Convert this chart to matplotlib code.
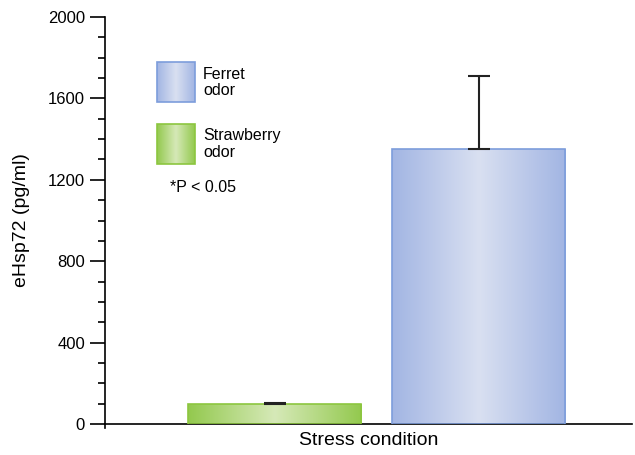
import numpy as np
import matplotlib
matplotlib.use("Agg")
import matplotlib.pyplot as plt
from matplotlib.patches import Rectangle
from matplotlib.colors import LinearSegmentedColormap
from matplotlib.ticker import MultipleLocator

plt.rcParams['font.family'] = ['Liberation Sans', 'DejaVu Sans']

# data
conditions = ['Strawberry odor', 'Ferret odor']
means = [100, 1350]
errors = [5, 360]
yticks = [0, 400, 800, 1200, 1600, 2000]

# colours: edge, gradient edge, gradient centre
styles = {
    'Strawberry odor': ('#8cc63f', '#93c94e', '#d6e9b8'),
    'Ferret odor': ('#7d9ddb', '#a2b5e3', '#d9e0f1'),
}


def gradient_fill(ax, x0, y0, w, h, colors, transform=None):
    edge, side, mid = colors
    cmap = LinearSegmentedColormap.from_list('g', [side, mid, side])
    grad = np.linspace(0, 1, 256).reshape(1, -1)
    tr = transform if transform is not None else ax.transData
    rect = Rectangle((x0, y0), w, h, facecolor='none', edgecolor=edge,
                     linewidth=1.2, transform=tr, zorder=3)
    im = ax.imshow(grad, cmap=cmap, aspect='auto', extent=(x0, x0 + w, y0, y0 + h),
                   transform=tr, zorder=2, interpolation='bicubic')
    ax.add_patch(rect)
    im.set_clip_path(rect)


fig = plt.figure(figsize=(6.35, 4.55), dpi=100)
ax = fig.add_axes([0.1654, 0.0681, 0.9953 - 0.1654, 0.9626 - 0.0681])

width = 0.848
x = np.arange(len(conditions))
for xi, name, m, e in zip(x, conditions, means, errors):
    gradient_fill(ax, xi - width / 2, 0, width, m, styles[name])
    ax.errorbar(xi, m + e / 2, yerr=[[e / 2], [e / 2]], fmt='none', ecolor='#222222',
                elinewidth=1.5, capsize=8, capthick=1.5, zorder=4)

ax.set_xlim(-0.831, 1.752)
ax.set_ylim(0, 2000)
ax.set_yticks(yticks)
ax.yaxis.set_minor_locator(MultipleLocator(100))
ax.tick_params(axis='y', which='major', length=11, width=1.2, labelsize=12, direction='out')
ax.tick_params(axis='y', which='minor', length=5, width=1.2, direction='out')
ax.set_xticks([])
for s in ['top', 'right']:
    ax.spines[s].set_visible(False)
ax.spines['left'].set_linewidth(1.2)
ax.spines['bottom'].set_linewidth(1.2)
ax.spines['left'].set_bounds(-20, 2000)

ax.set_xlabel('Stress condition', fontsize=14, labelpad=6)
ax.set_ylabel('eHsp72 (pg/ml)', fontsize=14, labelpad=13)

# legend drawn in axes coordinates
gradient_fill(ax, 0.0987, 0.791, 0.072, 0.098, styles['Ferret odor'], transform=ax.transAxes)
gradient_fill(ax, 0.0987, 0.639, 0.072, 0.098, styles['Strawberry odor'], transform=ax.transAxes)
ax.text(0.186, 0.840, 'Ferret\nodor', transform=ax.transAxes, fontsize=11.5,
        va='center', ha='left', linespacing=1.1)
ax.text(0.186, 0.688, 'Strawberry\nodor', transform=ax.transAxes, fontsize=11.5,
        va='center', ha='left', linespacing=1.1)
ax.text(0.123, 0.580, '*P < 0.05', transform=ax.transAxes, fontsize=11.5,
        va='center', ha='left')

fig.savefig('out.png', dpi=100)
